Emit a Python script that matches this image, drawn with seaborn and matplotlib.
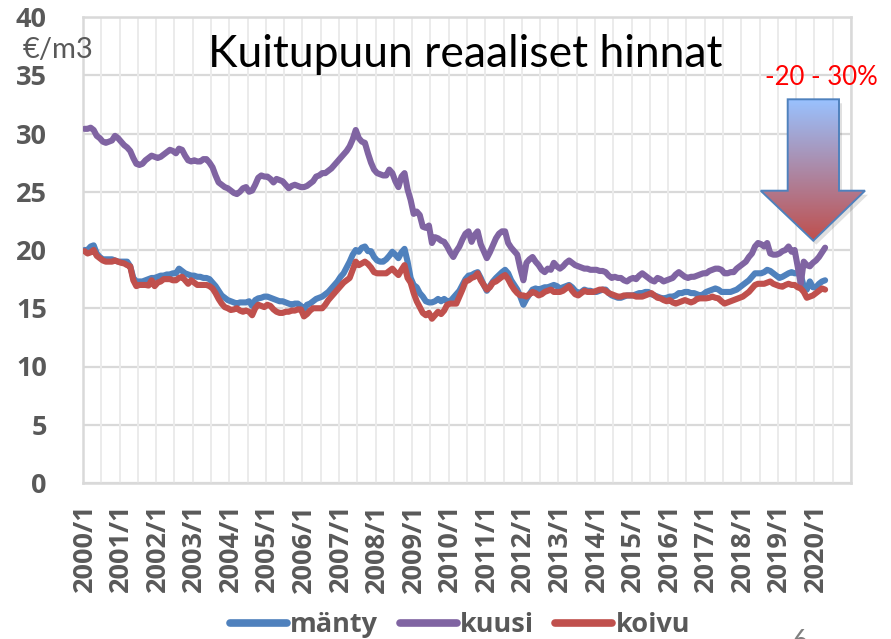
import numpy as np
import pandas as pd
import matplotlib
matplotlib.use("Agg")
import matplotlib.pyplot as plt
import seaborn as sns
from matplotlib.patches import Polygon
from matplotlib.lines import Line2D

# ---------------- data (monthly, 2000/1 .. 2020/4) ----------------
series_names = ["mänty", "kuusi", "koivu"]
series_colors = ["#4F81BD", "#8064A2", "#C0504D"]

manty = [
    20.0, 20.0, 20.3, 20.4, 19.7, 19.4, 19.2, 19.2, 19.2, 19.2, 19.1, 19.0,
    19.0, 19.0, 19.0, 18.6, 17.6, 17.3, 17.3, 17.3, 17.4, 17.5, 17.6, 17.6,
    17.7, 17.8, 17.8, 17.9, 17.9, 18.0, 18.0, 18.4, 18.2, 18.0, 17.9, 17.8,
    17.8, 17.7, 17.7, 17.6, 17.6, 17.5, 17.2, 16.9, 16.5, 16.1, 15.9, 15.7,
    15.6, 15.5, 15.4, 15.5, 15.5, 15.5, 15.6, 15.2, 15.7, 15.85, 15.9, 16.0,
    16.0, 15.9, 15.8, 15.7, 15.6, 15.6, 15.5, 15.4, 15.3, 15.4, 15.4, 15.2,
    14.9, 15.3, 15.4, 15.6, 15.8, 15.9, 16.0, 16.2, 16.4, 16.7, 17.0, 17.3,
    17.7, 18.0, 18.5, 19.0, 19.6, 20.0, 19.85, 20.2, 20.3, 19.9, 19.9, 19.4,
    19.1, 19.0, 19.0, 19.2, 19.5, 19.85, 19.6, 19.3, 19.8, 20.1, 19.0, 17.6,
    17.0, 16.8, 16.3, 16.0, 15.6, 15.5, 15.5, 15.6, 15.8, 15.6, 15.8, 15.6,
    15.6, 15.9, 16.2, 16.5, 17.0, 17.5, 17.8, 17.85, 18.0, 18.1, 17.6, 17.0,
    16.5, 16.9, 17.3, 17.6, 17.85, 18.1, 18.3, 18.0, 17.4, 17.0, 16.6, 16.0,
    15.3, 15.8, 16.2, 16.6, 16.7, 16.6, 16.7, 16.8, 16.8, 16.9, 17.0, 16.9,
    16.7, 16.8, 16.9, 17.0, 16.8, 16.5, 16.3, 16.4, 16.6, 16.5, 16.5, 16.4,
    16.4, 16.5, 16.6, 16.6, 16.3, 16.1, 16.0, 15.9, 15.9, 16.0, 16.1, 16.1,
    16.1, 16.2, 16.3, 16.3, 16.4, 16.4, 16.2, 16.1, 16.0, 15.9, 15.85, 15.9,
    16.0, 16.0, 16.1, 16.3, 16.3, 16.4, 16.4, 16.3, 16.3, 16.2, 16.1, 16.2,
    16.4, 16.5, 16.6, 16.7, 16.6, 16.4, 16.4, 16.4, 16.4, 16.5, 16.6, 16.8,
    17.0, 17.2, 17.4, 17.7, 18.0, 18.0, 18.0, 18.1, 18.3, 18.2, 18.0, 17.8,
    17.6, 17.7, 17.85, 18.0, 18.1, 18.0, 18.0, 17.9, 16.85, 16.6, 17.3, 16.8,
    16.8, 17.1, 17.3, 17.4,
]

kuusi = [
    30.4, 30.4, 30.5, 30.3, 29.8, 29.6, 29.3, 29.2, 29.3, 29.4, 29.8, 29.6,
    29.3, 29.0, 28.8, 28.5, 27.9, 27.4, 27.3, 27.4, 27.7, 27.9, 28.1, 28.0,
    27.9, 28.0, 28.2, 28.4, 28.6, 28.5, 28.3, 28.7, 28.6, 28.1, 27.7, 27.6,
    27.7, 27.6, 27.6, 27.8, 27.8, 27.5, 27.1, 26.4, 25.8, 25.6, 25.4, 25.3,
    25.1, 24.9, 24.8, 25.0, 25.3, 25.4, 25.0, 25.1, 25.6, 26.2, 26.4, 26.3,
    26.3, 26.1, 25.8, 26.1, 26.0, 25.9, 25.6, 25.3, 25.5, 25.6, 25.5, 25.4,
    25.4, 25.5, 25.7, 25.9, 26.3, 26.4, 26.6, 26.6, 26.8, 27.0, 27.3, 27.6,
    27.9, 28.2, 28.5, 28.9, 29.5, 30.3, 29.6, 29.3, 29.2, 28.3, 27.5, 26.9,
    26.6, 26.5, 26.4, 26.4, 26.9, 26.6, 25.9, 25.4, 26.3, 26.6, 25.2, 24.3,
    23.1, 23.3, 23.0, 22.0, 21.9, 22.1, 20.6, 21.1, 21.0, 20.8, 20.7, 20.3,
    19.8, 19.4, 19.9, 20.3, 20.9, 21.4, 21.6, 20.7, 21.3, 21.6, 20.5, 19.9,
    19.3, 19.8, 20.4, 21.0, 21.4, 21.6, 21.6, 20.6, 20.2, 19.9, 19.6, 18.4,
    17.4, 18.9, 19.2, 19.4, 19.0, 18.7, 18.3, 18.1, 18.4, 18.3, 18.9, 18.6,
    18.4, 18.6, 18.9, 19.1, 18.9, 18.7, 18.6, 18.5, 18.4, 18.4, 18.3, 18.3,
    18.3, 18.2, 18.2, 18.1, 17.8, 17.6, 17.7, 17.6, 17.6, 17.4, 17.3, 17.5,
    17.6, 17.5, 17.8, 18.0, 17.8, 17.6, 17.4, 17.3, 17.6, 17.5, 17.3, 17.4,
    17.5, 17.6, 17.9, 18.1, 17.9, 17.7, 17.6, 17.7, 17.7, 17.8, 17.9, 18.0,
    18.0, 18.2, 18.3, 18.4, 18.4, 18.3, 18.0, 18.0, 18.1, 18.1, 18.4, 18.6,
    18.8, 19.0, 19.4, 19.7, 20.3, 20.6, 20.5, 20.3, 20.6, 19.7, 19.6, 19.6,
    19.7, 19.9, 20.0, 20.3, 19.85, 20.0, 18.6, 17.1, 19.0, 18.7, 18.6, 18.9,
    19.1, 19.4, 19.8, 20.2,
]

koivu = [
    19.9, 19.7, 19.8, 20.0, 19.5, 19.3, 19.1, 19.0, 19.0, 19.0, 19.1, 19.0,
    18.9, 18.85, 18.7, 18.6, 17.4, 16.9, 17.0, 17.0, 17.0, 16.95, 17.4, 16.9,
    17.2, 17.3, 17.5, 17.5, 17.5, 17.4, 17.4, 17.6, 17.7, 17.4, 17.1, 17.4,
    17.2, 17.0, 17.0, 17.0, 17.0, 16.9, 16.7, 16.3, 15.8, 15.4, 15.1, 15.0,
    14.85, 14.9, 15.0, 14.8, 14.7, 14.8, 14.7, 14.4, 15.0, 15.3, 15.2, 15.1,
    15.3, 15.2, 14.9, 14.7, 14.6, 14.6, 14.7, 14.7, 14.8, 14.8, 14.9, 14.9,
    14.3, 14.5, 14.8, 15.0, 15.0, 15.0, 15.0, 15.3, 15.7, 16.0, 16.3, 16.6,
    16.9, 17.2, 17.4, 17.6, 18.3, 19.0, 18.7, 18.85, 19.0, 18.8, 18.5, 18.1,
    18.0, 18.0, 18.0, 18.0, 18.2, 18.4, 18.1, 17.85, 18.3, 18.7, 17.6, 17.2,
    16.3, 15.6, 15.1, 14.6, 14.4, 14.6, 14.1, 14.4, 14.7, 14.5, 14.8, 15.3,
    15.4, 15.4, 15.4, 16.0, 16.6, 17.3, 17.4, 17.6, 17.7, 18.0, 17.4, 17.0,
    16.6, 16.8, 17.2, 17.3, 17.5, 17.7, 17.85, 17.5, 17.0, 16.6, 16.3, 16.1,
    16.1, 16.0, 16.2, 16.4, 16.3, 16.1, 16.2, 16.4, 16.5, 16.6, 16.4, 16.4,
    16.4, 16.5, 16.7, 16.9, 16.5, 16.2, 16.1, 16.3, 16.5, 16.4, 16.4, 16.4,
    16.5, 16.6, 16.6, 16.5, 16.3, 16.2, 16.1, 16.0, 16.0, 16.1, 16.1, 16.1,
    16.1, 16.0, 16.0, 16.0, 16.1, 16.2, 16.3, 16.1, 15.9, 15.85, 15.7, 15.6,
    15.7, 15.5, 15.4, 15.5, 15.6, 15.7, 15.6, 15.5, 15.6, 15.8, 15.85, 15.85,
    15.85, 15.9, 16.0, 15.9, 15.85, 15.6, 15.4, 15.5, 15.6, 15.7, 15.8, 15.9,
    16.0, 16.2, 16.4, 16.7, 17.0, 17.1, 17.1, 17.1, 17.2, 17.3, 17.1, 17.0,
    16.9, 16.85, 17.0, 17.1, 17.0, 17.0, 16.8, 16.7, 16.4, 15.9, 16.0, 16.1,
    16.3, 16.5, 16.7, 16.6,
]

start_year = 2000
n_categories = 252          # category axis runs 2000/1 .. 2020/12
year_labels = [f"{y}/1" for y in range(2000, 2021)]
y_ticks = [0, 5, 10, 15, 20, 25, 30, 35, 40]

title_text = "Kuitupuun reaaliset hinnat"
unit_text = "€/m3"
change_text = "-20 - 30%"
page_text = "6"

# ---------------- build table ----------------
frames = []
for name, vals in zip(series_names, [manty, kuusi, koivu]):
    frames.append(pd.DataFrame({"month": np.arange(len(vals)), "value": vals, "laji": name}))
df = pd.concat(frames, ignore_index=True)

# ---------------- style ----------------
sns.set_theme(style="white")
plt.rcParams["font.family"] = ["Lato", "DejaVu Sans"]
BOLD_FAMILY = ["Open Sans", "DejaVu Sans"]

W, H = 891, 639
fig = plt.figure(figsize=(W / 100, H / 100), dpi=100)
L, R, T, B = 83, 851, 17, 483
ax = fig.add_axes([L / W, 1 - B / H, (R - L) / W, (B - T) / H])

grid_col = "#D9D9D9"
for v in y_ticks:
    ax.axhline(v, color=grid_col, lw=1.6, zorder=0)
for k in range(0, n_categories + 1, 6):
    ax.axvline(k - 0.5, color="#EBEBEB", lw=1.4, zorder=0)

palette = dict(zip(series_names, series_colors))
sns.lineplot(data=df, x="month", y="value", hue="laji", palette=palette,
             hue_order=series_names, lw=4.4, legend=False, ax=ax, zorder=3)
for ln in ax.get_lines():
    ln.set_solid_capstyle("round")
    ln.set_solid_joinstyle("round")

ax.set_xlim(-0.5, n_categories - 0.5)
ax.set_ylim(0, 40)
ax.set_xlabel("")
ax.set_ylabel("")
ax.set_yticks(y_ticks)
ax.set_xticks(np.arange(0, 12 * len(year_labels), 12))
ax.set_xticklabels(year_labels, rotation=90)
tick_col = "#595959"
ax.tick_params(axis="both", length=0, colors=tick_col, labelsize=19.5)
ax.tick_params(axis="y", pad=26)
ax.tick_params(axis="x", pad=15)
for lab in ax.get_xticklabels() + ax.get_yticklabels():
    lab.set_fontfamily(BOLD_FAMILY)
    lab.set_fontweight("bold")
for s in ax.spines.values():
    s.set_color(grid_col)
    s.set_linewidth(1.8)

# legend
handles = [Line2D([0], [0], color=c, lw=5.5, solid_capstyle="round") for c in series_colors]
leg = fig.legend(handles, series_names, loc="center", bbox_to_anchor=(460 / W, 1 - 625 / H),
                 ncol=3, frameon=False, handlelength=2.1, handletextpad=0.12,
                 columnspacing=0.8,
                 prop={"weight": "bold", "size": 19.5, "family": BOLD_FAMILY})
for t in leg.get_texts():
    t.set_color(tick_col)

# texts
fig.text(465 / W, 1 - 67 / H, title_text, ha="center", va="baseline", fontsize=32, color="black")
fig.text(23 / W, 1 - 58 / H, unit_text, ha="left", va="baseline", fontsize=21, color=tick_col)
fig.text(765 / W, 1 - 85 / H, change_text, ha="left", va="baseline", fontsize=18.5, color="#FF0000")
fig.text(800 / W, 1 - 650 / H, page_text, ha="center", va="baseline", fontsize=20, color="#808080")

# arrow annotation (overlay in pixel coordinates)
ov = fig.add_axes([0, 0, 1, 1])
ov.set_xlim(0, W)
ov.set_ylim(H, 0)
ov.axis("off")
pts = [(787.7, 99.3), (839, 99.3), (839, 190.7), (865, 190.7),
       (813.3, 240.7), (760.7, 190.7), (787.7, 190.7)]
shadow = Polygon([(x + 3, y + 4) for x, y in pts], closed=True, facecolor="#000000",
                 alpha=0.12, edgecolor="none")
ov.add_patch(shadow)
top = np.array([0.60, 0.76, 1.00])
bot = np.array([0.75, 0.31, 0.30])
tt = np.linspace(0, 1, 256)[:, None]
grad = (top[None, :] * (1 - tt) + bot[None, :] * tt)[:, None, :]
im = ov.imshow(grad, extent=(760, 866, 241, 99), aspect="auto", origin="upper", zorder=2)
poly = Polygon(pts, closed=True, facecolor="none", edgecolor="#4F81BD", lw=1.4, zorder=3)
ov.add_patch(poly)
im.set_clip_path(poly)
ov.set_xlim(0, W)
ov.set_ylim(H, 0)

fig.savefig("out.png", dpi=100)
